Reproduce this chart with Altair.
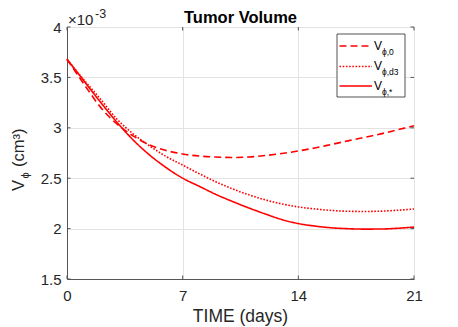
import altair as alt
import pandas as pd

# ---- data (values in units of 1e-3 cm^3) ----
days = list(range(22))
v_0 = [3.68, 3.44, 3.21, 3.04, 2.92, 2.83, 2.775, 2.74, 2.72, 2.71, 2.705,
       2.71, 2.725, 2.745, 2.77, 2.80, 2.835, 2.87, 2.905, 2.94, 2.98, 3.02]
v_d3 = [3.68, 3.48, 3.29, 3.09, 2.94, 2.82, 2.715, 2.63, 2.545, 2.465, 2.395,
        2.335, 2.285, 2.245, 2.215, 2.195, 2.18, 2.172, 2.17, 2.173, 2.182, 2.195]
v_star = [3.68, 3.47, 3.26, 3.06, 2.88, 2.73, 2.605, 2.50, 2.42, 2.34, 2.27,
          2.205, 2.145, 2.09, 2.05, 2.025, 2.008, 1.999, 1.995, 1.996, 2.003, 2.015]

x_ticks = [0, 7, 14, 21]
y_ticks = [1.5, 2, 2.5, 3, 3.5, 4]

legend_sub = ["ϕ,0", "ϕ,d3", "ϕ,*"]
legend_dash = [[7, 4], [1.6, 1.6], [1, 0]]

W, H = 347, 252
RED = "#ff0000"
AX = "#555555"
FONT = "Liberation Sans"

df = pd.DataFrame({
    "day": days * 3,
    "v": v_0 + v_d3 + v_star,
    "s": ["v0"] * len(days) + ["vd3"] * len(days) + ["vs"] * len(days),
})

xs = alt.Scale(domain=[0, 21], nice=False, zero=False)
ys = alt.Scale(domain=[1.5, 4], nice=False, zero=False)

xax = alt.Axis(values=x_ticks, title=None, grid=True, gridColor="#e3e3e3",
               domainColor=AX, tickSize=0, labelPadding=9, labelFontSize=15,
               labelFont=FONT, labelColor="#262626", labelFlush=False)
yax = alt.Axis(values=y_ticks, title=None, grid=True, gridColor="#e3e3e3",
               domainColor=AX, tickSize=0, labelPadding=6, labelFontSize=15,
               labelFont=FONT, labelColor="#262626", labelFlush=False,
               labelExpr="datum.value")

base = alt.Chart(df)
lines = []
for key, dash in zip(["v0", "vd3", "vs"], legend_dash):
    lines.append(
        base.transform_filter(alt.datum.s == key)
        .mark_line(color=RED, strokeWidth=1.6, strokeDash=dash, interpolate="monotone")
        .encode(x=alt.X("day:Q", scale=xs, axis=xax),
                y=alt.Y("v:Q", scale=ys, axis=yax))
    )

# inward ticks (box style)
xt = pd.DataFrame({"t": x_ticks})
yt = pd.DataFrame({"t": y_ticks})
ticks = [
    alt.Chart(xt).mark_rule(color=AX, strokeWidth=1).encode(
        x=alt.X("t:Q", scale=xs), y=alt.value(H), y2=alt.value(H - 3.5)),
    alt.Chart(xt).mark_rule(color=AX, strokeWidth=1).encode(
        x=alt.X("t:Q", scale=xs), y=alt.value(0), y2=alt.value(3.5)),
    alt.Chart(yt).mark_rule(color=AX, strokeWidth=1).encode(
        y=alt.Y("t:Q", scale=ys), x=alt.value(0), x2=alt.value(3.5)),
    alt.Chart(yt).mark_rule(color=AX, strokeWidth=1).encode(
        y=alt.Y("t:Q", scale=ys), x=alt.value(W), x2=alt.value(W - 3.5)),
]

one = pd.DataFrame({"a": [0]})

def txt(text, x, y, size, angle=0, align="left", weight="normal", color="#262626"):
    kw = dict(text=text, fontSize=size, font=FONT, align=align, baseline="alphabetic",
              color=color, fontWeight=weight)
    if angle:
        kw["angle"] = angle
    return alt.Chart(one).mark_text(**kw).encode(x=alt.value(x), y=alt.value(y))

texts = [
    txt("Tumor Volume", W / 2, -4.5, 16.5, align="center", weight="bold", color="#000000"),
    txt("TIME (days)", W / 2, 295, 17.5, align="center"),
    txt("×10", 1, -2, 15),
    txt("-3", 28, -9.5, 12.5),
    txt("V", -43.5, 164, 16.5, angle=270),
    txt("ϕ", -38, 151.5, 11, angle=270),
    txt("(cm³)", -43.5, 140, 16.5, angle=270),
]

# legend box
legend = [
    alt.Chart(one).mark_rect(fill="white", stroke="#262626", strokeWidth=0.8).encode(
        x=alt.value(270), x2=alt.value(338), y=alt.value(7), y2=alt.value(70)),
]
rows_y = [19, 39.5, 59]
for sub, dash, ry in zip(legend_sub, legend_dash, rows_y):
    legend.append(
        alt.Chart(one).mark_rule(color=RED, strokeWidth=1.6, strokeDash=dash).encode(
            x=alt.value(272.5), x2=alt.value(305), y=alt.value(ry)))
    legend.append(txt("V", 307, ry + 3.5, 12, color="#000000"))
    legend.append(txt(sub, 315, ry + 8.5, 8.5, color="#000000"))

chart = alt.layer(*lines, *ticks, *texts, *legend).properties(
    width=W, height=H,
    autosize=alt.AutoSizeParams(type="none"),
    padding={"left": 59, "top": 19, "right": 30, "bottom": 48},
).configure_view(stroke=AX, strokeWidth=1).configure(background="white")

chart.save("out.html", embed_options={"renderer": "svg", "actions": False})
